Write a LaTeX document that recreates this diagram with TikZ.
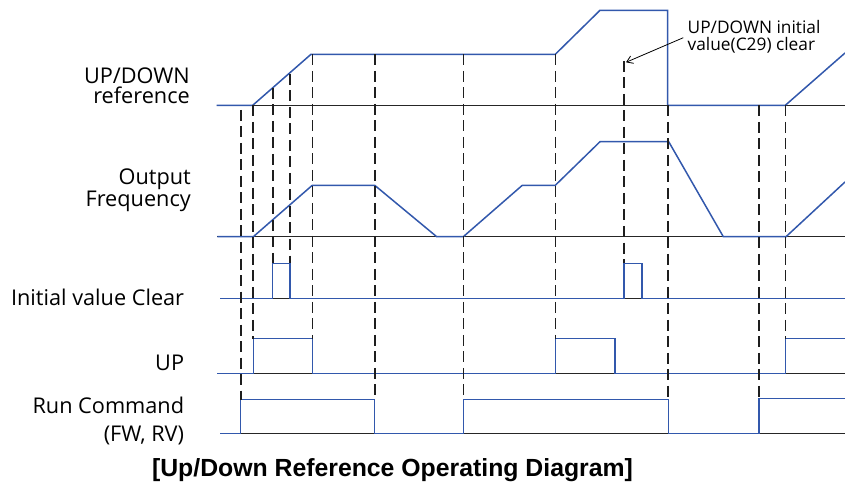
\documentclass[tikz,border=0pt]{standalone}
\usepackage{fontspec}
\setmainfont{Open Sans}
\newfontfamily\titlefont{Liberation Sans}
\usetikzlibrary{arrows.meta}
\definecolor{sigblue}{RGB}{50,88,172}
\definecolor{dashgray}{RGB}{30,30,30}
\begin{document}
\begin{tikzpicture}[x=1pt,y=-1pt,
  axis/.style={draw=black!85,line width=1.4pt},
  sig/.style={draw=sigblue,line width=1.5pt,line join=miter},
  guide/.style={draw=dashgray,line width=1.6pt,dash pattern=on 11pt off 5.5pt},
  lbl/.style={inner sep=0pt,anchor=base east,font=\fontsize{21.7}{21.7}\selectfont},
  note/.style={inner sep=0pt,anchor=base west,font=\fontsize{17.3}{17.3}\selectfont}]
\useasboundingbox (0,0) rectangle (845,486);

% axes
\draw[axis] (216.7,105.3) -- (845,105.3);
\draw[axis] (217.3,236.7) -- (845,236.7);
\draw[axis] (220,298.3) -- (845,298.3);
\draw[axis] (217.3,373.7) -- (845,373.7);
\draw[axis] (220,433.7) -- (845,433.7);

% signals
\draw[sig] (216.7,105.3) -- (252.7,105.3) -- (311,54.3) -- (555.3,54.3) -- (600,10.3) -- (667.7,10.3) -- (667.7,105.3) -- (785.3,105.3) -- (845,53);
\draw[sig] (217.3,236.7) -- (253.3,236.7) -- (312.3,185.3) -- (374.7,185.3) -- (436.7,236.7) -- (463.3,236.7) -- (522.3,185.3) -- (555.3,185.3) -- (600,141.7) -- (668.7,141.7) -- (723.3,236.7) -- (786,236.7) -- (845,182);
\draw[sig] (220,298.3) -- (272.7,298.3) -- (272.7,263.3) -- (290,263.3) -- (290,298.3) -- (624,298.3) -- (624,263.3) -- (642,263.3) -- (642,298.3) -- (845,298.3);
\draw[sig] (217.3,373.7) -- (253.3,373.7) -- (253.3,338.7) -- (312.3,338.7) -- (312.3,373.7) -- (555.3,373.7) -- (555.3,338.7) -- (615,338.7) -- (615,373.7) -- (785.3,373.7) -- (785.3,338.5) -- (845,338.5);
\draw[sig] (220,433.7) -- (240.7,433.7) -- (240.7,399.7) -- (374.7,399.7) -- (374.7,433.7) -- (463.3,433.7) -- (463.3,399.7) -- (668.7,399.7) -- (668.7,433.7) -- (759,433.7) -- (759,398.3) -- (845,398.3);

% guides
\draw[guide] (240.7,110) -- (240.7,399.7);
\draw[guide] (252.7,105.3) -- (252.7,338.7);
\draw[guide] (272.7,87.8) -- (272.7,263.3);
\draw[guide] (290,74) -- (290,263.3);
\draw[guide] (312.3,54.3) -- (312.3,338.7);
\draw[guide] (374.7,54.3) -- (374.7,399.7);
\draw[guide] (463.3,54.3) -- (463.3,399.7);
\draw[guide] (555.3,54.3) -- (555.3,338.7);
\draw[guide] (624,61) -- (624,263.3);
\draw[guide] (667.7,105.3) -- (667.7,399.7);
\draw[guide] (759,105.3) -- (759,398.3);
\draw[guide] (785.3,105.3) -- (785.3,338.5);

% labels
\node[lbl] (l1a) at (190,83.3) {UP/DOWN};
\node[lbl] (l1b) at (190,104) {reference};
\node[lbl] (l2a) at (191,185) {Output};
\node[lbl] (l2b) at (191,206.5) {Frequency};
\node[lbl] (l3) at (184.3,305) {Initial value Clear};
\node[lbl] (l4) at (184.3,370) {UP};
\node[lbl] (l5a) at (184.3,413.3) {Run Command};
\node[lbl] (l5b) at (184.3,441) {(FW, RV)};

% annotation
\node[note] (n1) at (687.5,50.8) {\vbox{\baselineskip=16.8pt\lineskiplimit=-20pt\lineskip=0pt\hbox{UP/DOWN initial}\hbox{value(C29) clear}}};
\coordinate (tail) at (683.3,37.7);
\coordinate (tip) at (626,62.3);
\draw[line width=0.8pt,-{Straight Barb[length=6pt,width=8pt]}] (tail) -- (tip);

% title
\node[inner sep=0pt,anchor=base] (title) at (392.5,476.7) {\titlefont\bfseries\fontsize{24.8}{24.8}\selectfont [Up/Down Reference Operating Diagram]};
\end{tikzpicture}
\end{document}
